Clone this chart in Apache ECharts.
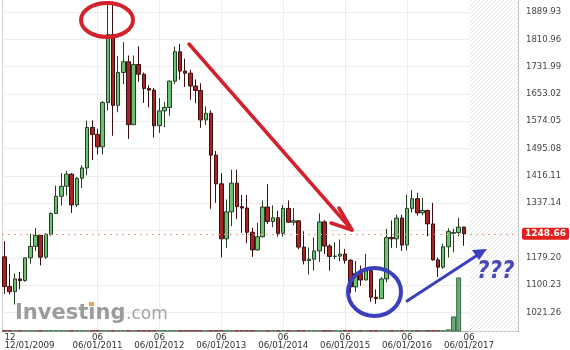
<!DOCTYPE html>
<html><head><meta charset="utf-8">
<script src="https://cdn.jsdelivr.net/npm/echarts@6/dist/echarts.min.js"></script>
<style>html,body{margin:0;padding:0;background:#fff}#c{width:570px;height:350px}</style>
</head><body><div id="c"></div>
<script>
// ---- categories (monthly, Dec 2009 .. Mar 2018; last 10 months are the empty future zone)
const months = [
'2009-12','2010-01','2010-02','2010-03','2010-04','2010-05','2010-06','2010-07','2010-08','2010-09',
'2010-10','2010-11','2010-12','2011-01','2011-02','2011-03','2011-04','2011-05','2011-06','2011-07',
'2011-08','2011-09','2011-10','2011-11','2011-12','2012-01','2012-02','2012-03','2012-04','2012-05',
'2012-06','2012-07','2012-08','2012-09','2012-10','2012-11','2012-12','2013-01','2013-02','2013-03',
'2013-04','2013-05','2013-06','2013-07','2013-08','2013-09','2013-10','2013-11','2013-12','2014-01',
'2014-02','2014-03','2014-04','2014-05','2014-06','2014-07','2014-08','2014-09','2014-10','2014-11',
'2014-12','2015-01','2015-02','2015-03','2015-04','2015-05','2015-06','2015-07','2015-08','2015-09',
'2015-10','2015-11','2015-12','2016-01','2016-02','2016-03','2016-04','2016-05','2016-06','2016-07',
'2016-08','2016-09','2016-10','2016-11','2016-12','2017-01','2017-02','2017-03','2017-04','2017-05',
'2017-06','2017-07','2017-08','2017-09','2017-10','2017-11','2017-12','2018-01','2018-02','2018-03'];

// ---- OHLC series
const opens = [
1182,1096,1081,1118,1113,1179,1212,1244,1181,1247,
1307,1357,1386,1421,1332,1409,1439,1556,1536,1500,
1628,1825,1620,1715,1746,1564,1738,1710,1669,1664,
1561,1604,1614,1690,1775,1719,1713,1676,1663,1578,
1597,1476,1393,1234,1312,1395,1327,1323,1253,1202,
1240,1326,1284,1295,1250,1322,1282,1286,1210,1171,
1175,1199,1283,1213,1183,1184,1190,1172,1095,1134,
1115,1142,1065,1061,1118,1238,1234,1294,1216,1322,
1350,1309,1316,1277,1173,1152,1211,1250,1252,1268];
const closes = [
1096,1081,1118,1113,1179,1212,1244,1181,1247,1307,
1357,1386,1421,1332,1409,1439,1556,1536,1500,1628,
1825,1620,1715,1746,1564,1738,1710,1669,1664,1561,
1604,1614,1690,1775,1719,1713,1676,1663,1578,1597,
1476,1393,1234,1312,1395,1327,1323,1253,1202,1240,
1326,1284,1295,1250,1322,1282,1286,1210,1171,1175,
1199,1283,1213,1183,1184,1190,1172,1095,1134,1115,
1142,1065,1061,1118,1238,1234,1294,1216,1322,1350,
1309,1316,1277,1173,1152,1211,1255,1252,1268,1248.66];
const lows = [
1075,1073,1044,1088,1110,1162,1199,1157,1176,1242,
1306,1330,1359,1309,1326,1381,1418,1462,1478,1478,
1605,1532,1600,1681,1523,1563,1688,1627,1614,1527,
1540,1557,1590,1682,1694,1673,1636,1626,1555,1563,
1321,1338,1180,1208,1271,1291,1251,1221,1182,1200,
1238,1277,1268,1240,1240,1280,1273,1204,1160,1131,
1142,1167,1190,1142,1175,1169,1162,1077,1080,1098,
1114,1052,1046,1060,1108,1208,1208,1199,1200,1310,
1301,1302,1241,1171,1124,1147,1180,1195,1241,1214];
const highs = [
1227,1161,1134,1138,1180,1249,1265,1245,1251,1311,
1388,1424,1431,1424,1413,1447,1576,1577,1552,1632,
1913,1921,1763,1803,1764,1764,1791,1715,1678,1670,
1641,1630,1692,1790,1798,1755,1723,1695,1684,1617,
1606,1488,1424,1348,1434,1434,1361,1361,1266,1280,
1345,1392,1331,1315,1332,1345,1323,1288,1256,1209,
1238,1308,1288,1219,1224,1232,1205,1175,1170,1157,
1191,1145,1088,1123,1263,1287,1304,1304,1362,1375,
1367,1352,1318,1338,1180,1220,1264,1263,1295,1269];
const volumes = [
4,4,4,4,4,4,4,4,4,4,
4,4,4,4,4,4,4,4,4,4,
4,4,4,4,4,4,4,4,4,4,
4,4,4,4,4,4,4,4,4,4,
4,4,4,4,4,4,4,4,4,4,
4,4,4,4,4,4,4,4,4,4,
4,4,4,4,4,4,4,4,4,4,
4,4,4,4,4,4,4,4,4,4,
4,4,4,4,4,4,6,42,150,0];

// ---- axis tick labels
const yTicks = [1021.26,1100.23,1179.20,1258.17,1337.14,1416.11,1495.08,1574.05,1653.02,1731.99,1810.96,1889.93];
const xLabelMonths = ['2009-12','2011-06','2012-06','2013-06','2014-06','2015-06','2016-06','2017-06'];
const xGridMonths = ['2011-06','2012-06','2013-06','2014-06','2015-06','2016-06','2017-06'];
const lastPrice = 1248.66;
const futureStart = '2017-06';

const W = 570, H = 350;
const G = {left: 2, right: 52, top: 0, bottom: 18};
const UP = '#6cc271', DOWN = '#a82424';

const chart = echarts.init(document.getElementById('c'), null, {renderer: 'canvas'});

const candleData = opens.map((o, i) => [o, closes[i], lows[i], highs[i]]);
const volData = volumes.map((v, i) => {
  const up = closes[i] >= opens[i];
  return {
    value: v,
    itemStyle: v > 10
      ? {color: '#6aa878', borderColor: '#3b6b48', borderWidth: 1}
      : {color: up ? '#4f7d5a' : '#7a3a3a', borderWidth: 0}
  };
});

const gridLineData = yTicks.map(v => ({
  yAxis: v,
  label: {show: Math.abs(v - lastPrice) > 20}
})).concat(xGridMonths.map(m => ({xAxis: m, label: {show: false}})));

const option = {
  animation: false,
  backgroundColor: '#fff',
  grid: {left: G.left, right: G.right, top: G.top, bottom: G.bottom},
  xAxis: {
    type: 'category',
    data: months,
    boundaryGap: true,
    axisLine: {show: true, lineStyle: {color: '#a8a8a8'}},
    axisTick: {show: false},
    splitLine: {show: false},
    axisLabel: {
      interval: (idx, val) => xLabelMonths.indexOf(val) >= 0,
      formatter: v => { const [y, m] = v.split('-'); return m + '\n' + m + '/01/' + y; },
      alignMinLabel: 'left',
      hideOverlap: false,
      color: '#333', fontSize: 8.7, lineHeight: 8, margin: 2,
      fontFamily: 'DejaVu Sans'
    }
  },
  yAxis: [
    {type: 'value', position: 'right', min: 966, max: 1924.6, scale: true,
     axisLine: {show: true, lineStyle: {color: '#c4c4c4'}},
     axisTick: {show: false}, axisLabel: {show: false}, splitLine: {show: false}},
    {type: 'value', position: 'right', min: 0, max: 920, show: false},
    {type: 'value', position: 'left', min: 0, max: 1,
     axisLine: {show: true, lineStyle: {color: '#d0d0d0'}},
     axisTick: {show: false}, axisLabel: {show: false}, splitLine: {show: false}}
  ],
  series: [
    {
      type: 'line', data: [], silent: true, z: 1,
      markLine: {
        z: 1, silent: true, symbol: ['none', 'none'],
        lineStyle: {color: '#ededed', width: 1, type: 'solid'},
        label: {show: true, position: 'end', distance: 8, color: '#444', fontSize: 8.5,
                fontFamily: 'DejaVu Sans', formatter: p => Number(p.value).toFixed(2)},
        emphasis: {disabled: true},
        data: gridLineData
      }
    },
    {
      type: 'bar', yAxisIndex: 1, data: volData, barWidth: 5, silent: true, z: 1
    },
    {
      type: 'candlestick', data: candleData, barWidth: 4, z: 3,
      itemStyle: {color: UP, color0: DOWN, borderColor: '#253f25', borderColor0: '#3d0d0d', borderWidth: 1},
      markLine: {
        z: 6, silent: true, symbol: ['none', 'none'],
        lineStyle: {color: '#e8a088', width: 1, type: [2, 4]},
        label: {show: true, position: 'end', distance: 4, color: '#fff', fontWeight: 'bold',
                fontSize: 9, fontFamily: 'DejaVu Sans', backgroundColor: '#e3201c',
                padding: [2, 3, 1, 3], borderRadius: 2,
                formatter: p => Number(p.value).toFixed(2)},
        emphasis: {disabled: true},
        data: [{yAxis: lastPrice}]
      }
    }
  ]
};
chart.setOption(option);

// hatched "future" zone, located through the category axis
const pc = document.createElement('canvas');
pc.width = 4; pc.height = 4;
const ctx = pc.getContext('2d');
ctx.fillStyle = '#fff'; ctx.fillRect(0, 0, 4, 4);
ctx.strokeStyle = '#e6e6e6'; ctx.lineWidth = 1;
ctx.beginPath();
ctx.moveTo(0, 4); ctx.lineTo(4, 0);
ctx.moveTo(-1, 1); ctx.lineTo(1, -1);
ctx.moveTo(3, 5); ctx.lineTo(5, 3);
ctx.stroke();

const xf = chart.convertToPixel({xAxisIndex: 0}, futureStart);
const rightEdge = W - G.right;
const bottomEdge = H - G.bottom;

const RED = '#d2222b', BLUE = '#3b3fbd';
function arrowHead(tip, a, b, color, lw) {
  return {type: 'polyline', z: 20, silent: true, shape: {points: [a, tip, b]},
          style: {stroke: color, lineWidth: lw, fill: null, lineJoin: 'round', lineCap: 'round'}};
}

chart.setOption({
  graphic: [
    {type: 'rect', z: 2, silent: true, shape: {x: xf, y: G.top, width: rightEdge - xf - 0.5, height: bottomEdge - G.top - 0.5},
     style: {fill: {image: pc, repeat: 'repeat'}}},
    // Investing.com watermark
    {type: 'text', z: 15, silent: true, style: {text: 'Investing', x: 15, y: 313.5, verticalAlign: 'middle',
      font: 'bold 21px "DejaVu Sans"', fill: '#9b9b9b'}},
    {type: 'rect', z: 16, silent: true, shape: {x: 89, y: 302, width: 5, height: 4},
     style: {fill: '#f0a24a'}},
    {type: 'text', z: 15, silent: true, style: {text: '.com', x: 126, y: 315, verticalAlign: 'middle',
      font: '17px "DejaVu Sans"', fill: '#a3a3a3'}},
    // red ellipse around the peak
    {type: 'ellipse', z: 20, silent: true, shape: {cx: 107, cy: 20, rx: 26, ry: 17},
     style: {fill: null, stroke: RED, lineWidth: 4}},
    // red down arrow
    {type: 'line', z: 20, silent: true, shape: {x1: 189, y1: 44, x2: 352, y2: 230},
     style: {stroke: RED, lineWidth: 3.5, lineCap: 'round'}},
    arrowHead([352, 230], [339, 208], [331, 223], RED, 3.5),
    // blue ellipse around the low
    {type: 'ellipse', z: 20, silent: true, shape: {cx: 374.5, cy: 292, rx: 26.5, ry: 24},
     style: {fill: null, stroke: BLUE, lineWidth: 4}},
    // blue up arrow
    {type: 'line', z: 20, silent: true, shape: {x1: 407, y1: 301, x2: 480, y2: 253.5},
     style: {stroke: BLUE, lineWidth: 3, lineCap: 'round'}},
    {type: 'polygon', z: 20, silent: true, shape: {points: [[487, 249], [472, 250], [479, 260]]},
     style: {fill: BLUE}},
    {type: 'text', z: 20, silent: true, style: {text: '???', x: 477, y: 272, verticalAlign: 'middle',
      font: 'italic bold 24px "DejaVu Sans Condensed", "DejaVu Sans"', fill: '#4a4ab4'}}
  ]
});
</script>
</body></html>
